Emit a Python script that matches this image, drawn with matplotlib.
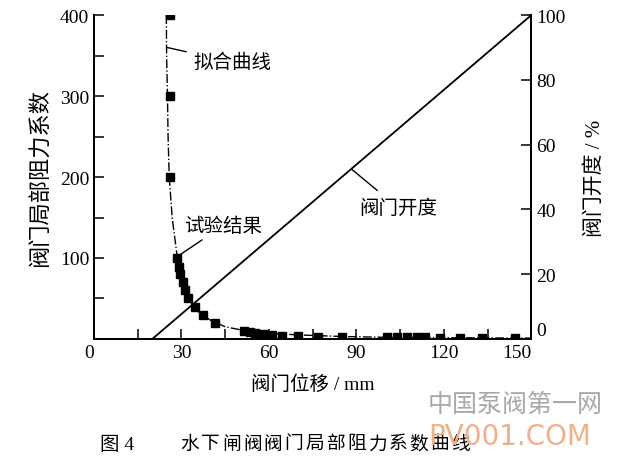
import numpy as np
import matplotlib.pyplot as plt
from matplotlib.ticker import MultipleLocator

plt.rcParams['font.family'] = ['Liberation Serif', 'Noto Sans CJK SC', 'DejaVu Sans']
plt.rcParams['axes.unicode_minus'] = False

# 试验结果（阀门位移 mm, 局部阻力系数）
test_x = [26.0, 26.0, 26.2, 28.6, 29.1, 29.5, 30.4, 31.1, 32.4, 34.7, 37.5, 41.6,
          51.3, 53.6, 55.3, 57.9, 61.0, 64.6, 70.1, 77.0, 85.0, 100.5, 103.9,
          107.3, 110.8, 113.6, 118.8, 125.6, 133.0, 144.5]
test_y = [400, 300, 200, 100, 89, 80, 70, 60, 50, 40, 30, 20,
          10, 8, 7, 6, 5, 4, 3.5, 3, 2.5, 2, 2, 1.8, 1.8, 1.8, 1.6, 1.5, 1.5, 1.5]

# 拟合曲线
fit_x = [24.8, 24.9, 25.2, 25.4, 25.8, 26.8, 28.6, 29.6, 31.0, 33.0, 36.0, 40.0,
         45.0, 52.0, 60.0, 70.0, 85.0, 100.0, 120.0, 150.0]
fit_y = [400, 350, 300, 250, 200, 150, 100, 80, 62, 47, 33, 23,
         15, 10, 7, 5, 3, 2, 1.5, 1]

# 阀门开度
open_x = [20, 150]
open_y = [0, 100]

x_ticks = [0, 30, 60, 90, 120, 150]
y_ticks = [100, 200, 300, 400]
y2_ticks = [0, 20, 40, 60, 80, 100]

caption_head = '图 4'
caption_body = '水下闸阀阀门局部阻力系数曲线'

fig = plt.figure(figsize=(6.44, 4.60), dpi=100)
ax = fig.add_axes([0.146, 0.261, 0.679, 0.704])
ax2 = ax.twinx()

ax.plot(fit_x, fit_y, color='black', lw=1.0, ls='-.')
ax.plot(test_x, test_y, ls='none', marker='s', ms=5.5, color='black')
ax2.plot(open_x, open_y, color='black', lw=1.3)

ax.set_xlim(0, 150)
ax.set_ylim(0, 400)
ax2.set_ylim(0, 100)

ax.set_xticks(x_ticks)
ax.set_xticklabels([str(v) for v in x_ticks])
ax.xaxis.set_minor_locator(MultipleLocator(15))
ax.set_yticks(y_ticks)
ax.set_yticklabels([str(v) for v in y_ticks])
ax.yaxis.set_minor_locator(MultipleLocator(50))
ax2.set_yticks(y2_ticks)
ax2.set_yticklabels([str(v) for v in y2_ticks])

for a in (ax, ax2):
    a.spines['top'].set_visible(False)
    for s in a.spines.values():
        s.set_linewidth(1.4)
    a.tick_params(which='both', direction='in', labelsize=14, width=1.1, length=7)

xlabels = ax.get_xticklabels()
xlabels[0].set_ha('right')
xlabels[-1].set_ha('right')
r_labels = ax2.get_yticklabels()
r_labels[0].set_va('bottom')

ax.set_xlabel('阀门位移 / mm', fontsize=14, labelpad=10)
ax.set_ylabel('阀门局部阻力系数', fontsize=16, labelpad=6)
ax2.set_ylabel('阀门开度 / %', fontsize=15, labelpad=14)

ax.annotate('拟合曲线', xy=(25.1, 360), xytext=(34, 342), fontsize=14,
            va='center', ha='left',
            arrowprops=dict(arrowstyle='-', color='black', lw=1.0,
                            shrinkA=3, shrinkB=0))
ax.annotate('试验结果', xy=(29.5, 104), xytext=(31, 140), fontsize=14,
            va='center', ha='left',
            arrowprops=dict(arrowstyle='-', color='black', lw=1.0,
                            shrinkA=3, shrinkB=0))
ax2.annotate('阀门开度', xy=(88.5, 52.3), xytext=(91, 40.5), fontsize=14,
             va='center', ha='left',
             arrowprops=dict(arrowstyle='-', color='black', lw=1.0,
                             shrinkA=6, shrinkB=0))

# 图题：逐字排布，字距较宽
fig.text(100 / 644, 1 - 445 / 460, caption_head, ha='left', va='center', fontsize=14)
for i, ch in enumerate(caption_body):
    fig.text((190 + i * 20.8) / 644, 1 - 445 / 460, ch, ha='center', va='center',
             fontsize=13.5)

# 水印
fig.text(0.935, 1 - 405 / 460, '中国泵阀第一网', ha='right', va='center', fontsize=18,
         color='#a8a8a8', family=['Noto Sans CJK SC'])
fig.text(0.918, 1 - 437 / 460, 'PV001.COM', ha='right', va='center', fontsize=20,
         color='#f2b088', family=['DejaVu Sans'])

plt.savefig('out.png', dpi=100)
